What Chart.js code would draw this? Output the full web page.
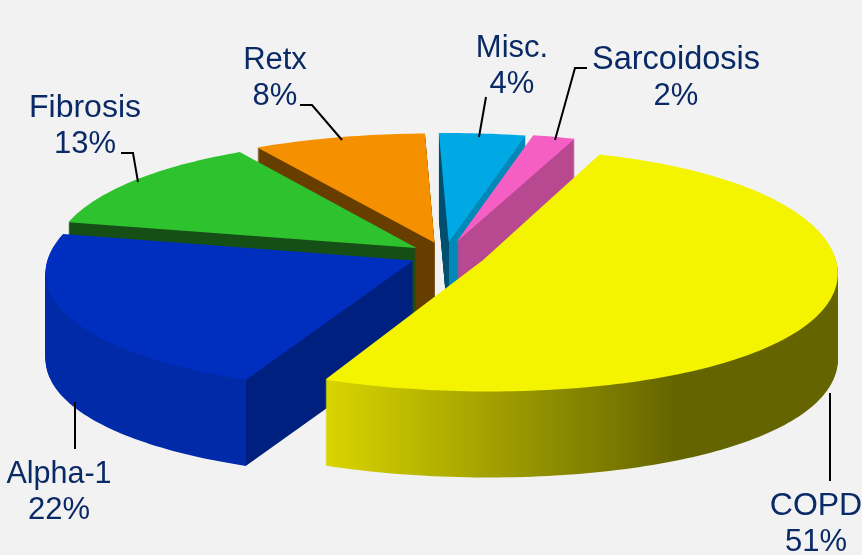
<!DOCTYPE html>
<html>
<head>
<meta charset="utf-8">
<title>Pie</title>
<script src="https://cdn.jsdelivr.net/npm/chart.js@4"></script>
<style>
    html, body { margin: 0; padding: 0; background: #f2f2f2; overflow: hidden; }
    canvas { display: block; }
</style>
</head>
<body>
<canvas id="pieChart" width="862" height="555"></canvas>
<script>
const categories = ['COPD', 'Alpha-1', 'Fibrosis', 'Retx', 'Misc.', 'Sarcoidosis'];
const values = [51, 22, 13, 8, 4, 2];

const topColors = ['#f4f300', '#002fc0', '#2fc22f', '#f59000', '#00a8e4', '#f55fc4'];
const wallLeft = ['#d9d500', '#002aa8', '#154f15', '#683e00', '#004f70', '#b84890'];
const wallRight = ['#646400', '#00207f', '#154f15', '#683e00', '#0088b8', '#b84890'];
const sliceOffsets = [30, 26, 26, 28, 28, 30];
const drawOrder = [4, 5, 3, 2, 1, 0];

// where the text and the little leader lines go
const labelX = [816, 59, 85, 275, 512, 676];
const labelY = [515, 483, 117, 69, 57, 69];
const labelSize = [32, 30.5, 32, 31, 31, 32.5];
const leaders = [
    [[830, 393], [830, 481]],
    [[75, 402], [75, 449]],
    [[121, 153], [133, 153], [138, 182]],
    [[300, 105], [312, 105], [342, 140]],
    [[486, 97], [479, 137]],
    [[587, 68], [575, 68], [555, 140]]
];

// flat pie -> screen
const screenX = 445;
const screenY = 255;
const radiusX = 358;
const radiusY = 120;
const widenLinear = 0.083;
const widenSquare = 0.055;
const perspectiveY = 0.08;
const leanX = 0.015;
const depth = 86;

function project(arc, px, py) {
    const u = (px - arc.x) / arc.outerRadius;
    const v = (py - arc.y) / arc.outerRadius;
    const wx = (1 + widenLinear * v + widenSquare * v * v) / (1 + leanX * u);
    const wy = 1 / (1 - perspectiveY * v);
    return [screenX + u * radiusX * wx, screenY + v * radiusY * wy];
}

function slicePoints(arc) {
    const offset = arc.options.offset;
    const mid = (arc.startAngle + arc.endAngle) / 2;
    const ox = arc.x + Math.cos(mid) * offset;
    const oy = arc.y + Math.sin(mid) * offset;
    const points = [project(arc, ox, oy)];
    const steps = Math.ceil((arc.endAngle - arc.startAngle) / 0.02);
    for (let i = 0; i <= steps; i++) {
        const t = arc.startAngle + (arc.endAngle - arc.startAngle) * i / steps;
        points.push(project(arc, ox + Math.cos(t) * arc.outerRadius, oy + Math.sin(t) * arc.outerRadius));
    }
    return points;
}

function fillPoints(ctx, points, shift) {
    ctx.beginPath();
    points.forEach((p, i) => {
        if (i === 0) ctx.moveTo(p[0], p[1] + shift);
        else ctx.lineTo(p[0], p[1] + shift);
    });
    ctx.closePath();
    ctx.fill();
}

function wallFill(ctx, points, index) {
    const xs = points.map(p => p[0]);
    const minX = Math.min(...xs);
    const maxX = Math.max(...xs);
    const gradient = ctx.createLinearGradient(minX, 0, maxX, 0);
    if (index === 0) {
        // the big front slice fades, the others just break at their lowest corner
        gradient.addColorStop(0, wallLeft[index]);
        gradient.addColorStop(0.69, wallRight[index]);
        gradient.addColorStop(1, wallRight[index]);
    } else {
        let lowest = points[0];
        points.forEach(p => {
            if (p[1] > lowest[1]) lowest = p;
        });
        const tip = (lowest[0] - minX) / (maxX - minX);
        gradient.addColorStop(0, wallLeft[index]);
        gradient.addColorStop(tip, wallLeft[index]);
        gradient.addColorStop(tip, wallRight[index]);
        gradient.addColorStop(1, wallRight[index]);
    }
    return gradient;
}

const pie3d = {
    id: 'pie3d',
    beforeDatasetsDraw(chart) {
        const ctx = chart.ctx;
        const arcs = chart.getDatasetMeta(0).data;
        ctx.save();
        drawOrder.forEach(index => {
            const points = slicePoints(arcs[index]);
            ctx.fillStyle = wallFill(ctx, points, index);
            for (let level = depth; level > 0; level--) {
                fillPoints(ctx, points, level);
            }
            ctx.fillStyle = arcs[index].options.backgroundColor;
            fillPoints(ctx, points, 0);
        });
        ctx.restore();
        return false;
    }
};

const sliceLabels = {
    id: 'sliceLabels',
    afterDraw(chart) {
        const ctx = chart.ctx;
        ctx.save();
        ctx.strokeStyle = '#000000';
        ctx.lineWidth = 2;
        leaders.forEach(line => {
            ctx.beginPath();
            line.forEach((p, i) => {
                if (i === 0) ctx.moveTo(p[0], p[1]);
                else ctx.lineTo(p[0], p[1]);
            });
            ctx.stroke();
        });
        ctx.fillStyle = '#0a2a66';
        ctx.textAlign = 'center';
        ctx.textBaseline = 'alphabetic';
        categories.forEach((name, i) => {
            ctx.font = labelSize[i] + 'px "Liberation Sans", Arial, sans-serif';
            ctx.fillText(name, labelX[i], labelY[i]);
            ctx.font = '31px "Liberation Sans", Arial, sans-serif';
            ctx.fillText(values[i] + '%', labelX[i], labelY[i] + 35.5);
        });
        ctx.restore();
    }
};

new Chart(document.getElementById('pieChart'), {
    type: 'pie',
    data: {
        labels: categories,
        datasets: [{
            data: values,
            backgroundColor: topColors,
            offset: sliceOffsets,
            hoverOffset: 0,
            borderWidth: 0
        }]
    },
    options: {
        responsive: false,
        animation: false,
        rotation: 20,
        events: [],
        plugins: {
            legend: { display: false },
            tooltip: { enabled: false }
        }
    },
    plugins: [pie3d, sliceLabels]
});
</script>
</body>
</html>
